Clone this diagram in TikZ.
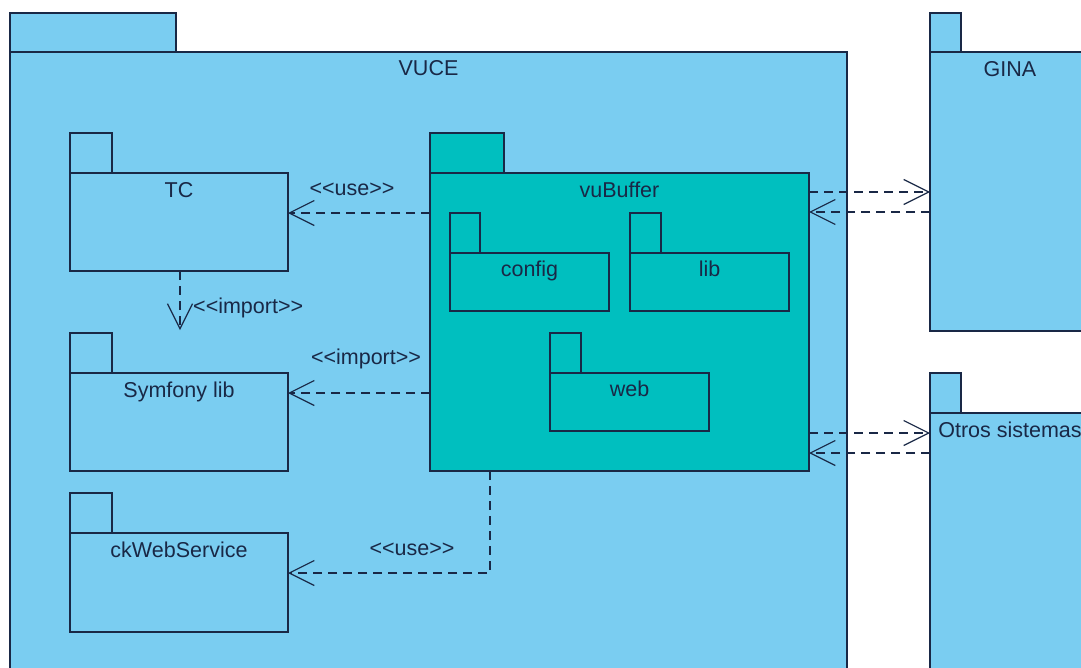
\documentclass[tikz,border=0pt]{standalone}
\usepackage{fontspec}
\setmainfont{Liberation Sans}[Ligatures=TeXOff]
\usetikzlibrary{arrows.meta}
\definecolor{pkgblue}{RGB}{122,205,241}
\definecolor{pkgteal}{RGB}{0,191,191}
\definecolor{edgec}{RGB}{25,40,70}
\tikzset{
 box/.style={draw=edgec, line width=1.5pt, inner sep=0pt, outer sep=0pt, anchor=north west},
 tabbox/.style={draw=edgec, line width=1.5pt, inner sep=0pt, outer sep=0pt, anchor=south west},
 title/.style={text=edgec, font=\fontsize{21.5}{24}\selectfont, anchor=base, inner sep=0pt},
 deplabel/.style={text=edgec, font=\fontsize{21.5}{24}\selectfont, inner sep=0pt},
 dep/.style={draw=edgec, line width=1.2pt, dash pattern=on 9pt off 6pt, -{Straight Barb[length=25pt,width=25pt,line width=1.2pt]}},
}
\begin{document}
\begin{tikzpicture}[x=1pt,y=-1pt]
\useasboundingbox (0,0) rectangle (1081,667);
\fill[white] (0,0) rectangle (1081,667);
\clip (0,0) rectangle (1081,667);
% VUCE
\node[box, fill=pkgblue, minimum width=837pt, minimum height=630pt] (vuce) at (10,52) {};
\node[tabbox, fill=pkgblue, minimum width=166pt, minimum height=39pt] (vucetab) at (vuce.north west) {};
\node[title] (vucelbl) at ([yshift=-23pt]vuce.north) {VUCE};
% GINA
\node[box, fill=pkgblue, minimum width=160pt, minimum height=279pt] (gina) at (930,52) {};
\node[tabbox, fill=pkgblue, minimum width=31pt, minimum height=39pt] (ginatab) at (gina.north west) {};
\node[title] (ginalbl) at ([yshift=-24pt]gina.north) {GINA};
% Otros sistemas
\node[box, fill=pkgblue, minimum width=160pt, minimum height=270pt] (otros) at (930,413) {};
\node[tabbox, fill=pkgblue, minimum width=31pt, minimum height=40pt] (otrostab) at (otros.north west) {};
\node[title] (otroslbl) at ([yshift=-24pt]otros.north) {Otros sistemas};
% TC
\node[box, fill=pkgblue, minimum width=218pt, minimum height=98pt] (tc) at (70,173) {};
\node[tabbox, fill=pkgblue, minimum width=42pt, minimum height=40pt] (tctab) at (tc.north west) {};
\node[title] (tclbl) at ([yshift=-24pt]tc.north) {TC};
% Symfony lib
\node[box, fill=pkgblue, minimum width=218pt, minimum height=98pt] (sym) at (70,373) {};
\node[tabbox, fill=pkgblue, minimum width=42pt, minimum height=40pt] (symtab) at (sym.north west) {};
\node[title] (symlbl) at ([yshift=-24pt]sym.north) {Symfony lib};
% ckWebService
\node[box, fill=pkgblue, minimum width=218pt, minimum height=99pt] (ck) at (70,533) {};
\node[tabbox, fill=pkgblue, minimum width=42pt, minimum height=40pt] (cktab) at (ck.north west) {};
\node[title] (cklbl) at ([yshift=-24pt]ck.north) {ckWebService};
% vuBuffer
\node[box, fill=pkgteal, minimum width=379pt, minimum height=298pt] (vb) at (430,173) {};
\node[tabbox, fill=pkgteal, minimum width=74pt, minimum height=40pt] (vbtab) at (vb.north west) {};
\node[title] (vblbl) at ([yshift=-24pt]vb.north) {vuBuffer};
% config
\node[box, fill=pkgteal, minimum width=159pt, minimum height=58pt] (config) at (450,253) {};
\node[tabbox, fill=pkgteal, minimum width=30pt, minimum height=40pt] (configtab) at (config.north west) {};
\node[title] (configlbl) at ([yshift=-23pt]config.north) {config};
% lib
\node[box, fill=pkgteal, minimum width=159pt, minimum height=58pt] (lib) at (630,253) {};
\node[tabbox, fill=pkgteal, minimum width=31pt, minimum height=40pt] (libtab) at (lib.north west) {};
\node[title] (liblbl) at ([yshift=-23pt]lib.north) {lib};
% web
\node[box, fill=pkgteal, minimum width=159pt, minimum height=58pt] (web) at (550,373) {};
\node[tabbox, fill=pkgteal, minimum width=31pt, minimum height=40pt] (webtab) at (web.north west) {};
\node[title] (weblbl) at ([yshift=-23pt]web.north) {web};
% dependencies
\draw[dep] ([yshift=-40pt]vb.north west) -- ([yshift=-40pt]tc.north east);
\node[deplabel, anchor=base] (use1) at (352,195) {<<use>>};
\draw[dep] ([xshift=110pt]tc.south west) -- ([xshift=110pt,yshift=43pt]sym.north west);
\node[deplabel, anchor=base west] (imp1) at (193,313) {<<import>>};
\draw[dep] ([yshift=-220pt]vb.north west) -- ([yshift=-20pt]sym.north east);
\node[deplabel, anchor=base] (imp2) at (366,364) {<<import>>};
\draw[dep] ([xshift=60pt]vb.south west) |- ([yshift=-40pt]ck.north east);
\node[deplabel, anchor=base] (use2) at (412,555) {<<use>>};
\draw[dep] ([yshift=-19pt]vb.north east) -- ([yshift=-140pt]gina.north west);
\draw[dep] ([yshift=-160pt]gina.north west) -- ([yshift=-39pt]vb.north east);
\draw[dep] ([yshift=-260pt]vb.north east) -- ([yshift=-20pt]otros.north west);
\draw[dep] ([yshift=-40pt]otros.north west) -- ([yshift=-280pt]vb.north east);
\end{tikzpicture}
\end{document}
